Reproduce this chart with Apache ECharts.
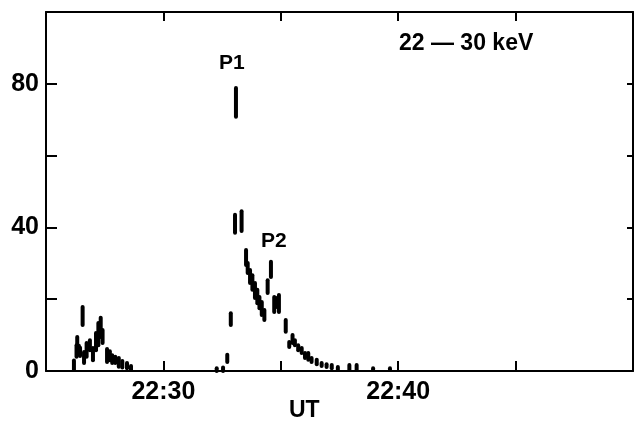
<!DOCTYPE html>
<html>
<head>
<meta charset="utf-8">
<script src="https://cdn.jsdelivr.net/npm/echarts@6/dist/echarts.min.js"></script>
<style>
  html, body { margin: 0; padding: 0; background: #fff; }
  #chart { width: 637px; height: 423px; }
</style>
</head>
<body>
<div id="chart"></div>
<script>
// Count-rate samples, 22-30 keV channel. Time in minutes after 22:00 UT,
// each sample drawn as a short vertical stroke from low to high count.
const times = [
  26.19, 26.30, 26.33, 26.40, 26.45, 26.56, 26.62, 26.73, 26.87, 27.00,
  27.13, 27.23, 27.33, 27.41, 27.60, 27.72, 27.82, 27.95, 28.10, 28.25,
  28.45, 28.62,
  32.27, 32.54, 32.72, 32.87, 33.05, 33.09, 33.33,
  33.52, 33.59, 33.69, 33.79, 33.90, 34.00, 34.09, 34.19, 34.30,
  34.44, 34.58, 34.72, 34.83, 34.92, 35.21,
  35.36, 35.50, 35.60, 35.74, 35.89, 36.03, 36.17, 36.31, 36.53, 36.74,
  36.95, 37.17, 37.43, 37.92, 38.23, 38.93, 39.65
];
const lows = [
  0.3, 4.0, 7.7, 4.5, 4.2, 12.8, 2.2, 4.0, 5.8, 3.0,
  5.8, 7.2, 9.5, 7.8, 2.5, 3.0, 2.2, 2.2, 1.2, 1.0,
  0.8, 0.3,
  0.0, 0.0, 2.5, 12.8, 38.5, 70.8, 39.0,
  29.5, 27.3, 24.5, 22.6, 20.3, 18.9, 17.5, 15.6, 14.2,
  21.7, 26.2, 16.4, 17.8, 16.4, 10.9,
  6.7, 7.8, 7.2, 5.8, 5.0, 3.6, 3.1, 2.5, 1.9, 1.4,
  1.1, 0.8, 0.5, 0.3, 0.3, 0.3, 0.3
];
const highs = [
  2.9, 7.2, 9.5, 7.0, 6.5, 17.8, 5.3, 7.8, 8.6, 6.4,
  10.6, 13.4, 14.8, 11.4, 6.1, 5.5, 4.4, 4.0, 3.6, 2.8,
  2.2, 1.4,
  0.8, 1.0, 4.5, 16.1, 43.5, 78.8, 44.5,
  33.7, 30.1, 28.1, 26.7, 24.5, 22.6, 20.6, 19.2, 17.0,
  25.3, 30.4, 20.6, 20.3, 21.2, 14.2,
  8.1, 10.0, 8.6, 7.2, 6.4, 5.0, 5.0, 3.6, 3.1, 2.2,
  1.9, 1.7, 1.1, 1.7, 1.7, 0.8, 0.8
];

// Axis settings
const xMin = 25, xMax = 50, xStep = 5;
const xLabelled = [30, 40];
const yMin = 0, yMax = 100, yStep = 20;
const yLabelled = [0, 40, 80];

const strokes = times.map((t, i) => [t, lows[i], highs[i]]);

const fontFamily = '"Liberation Sans", Arial, Helvetica, sans-serif';
const ink = '#000';

const chart = echarts.init(document.getElementById('chart'), null, { renderer: 'canvas' });

const axisLineStyle = { show: true, onZero: false, lineStyle: { color: ink, width: 2 } };

chart.setOption({
  animation: false,
  backgroundColor: '#fff',
  grid: { left: 46, right: 4, top: 12, bottom: 52, containLabel: false },
  xAxis: [
    {
      type: 'value', position: 'bottom', min: xMin, max: xMax, interval: xStep,
      axisLine: axisLineStyle,
      axisTick: { show: true, inside: true, length: 10, lineStyle: { color: ink, width: 2 } },
      splitLine: { show: false },
      axisLabel: {
        margin: 9, color: ink, fontFamily, fontWeight: 'bold', fontSize: 25,
        formatter: v => xLabelled.includes(v) ? '22:' + v : ''
      }
    },
    {
      type: 'value', position: 'top', min: xMin, max: xMax, interval: xStep,
      axisLine: axisLineStyle,
      axisTick: { show: true, inside: true, length: 9, lineStyle: { color: ink, width: 2 } },
      splitLine: { show: false },
      axisLabel: { show: false }
    }
  ],
  yAxis: [
    {
      type: 'value', position: 'left', min: yMin, max: yMax, interval: yStep,
      axisLine: axisLineStyle,
      axisTick: { show: true, inside: true, length: 11, lineStyle: { color: ink, width: 2 } },
      splitLine: { show: false },
      axisLabel: {
        margin: 7, color: ink, fontFamily, fontWeight: 'bold', fontSize: 25,
        formatter: v => yLabelled.includes(v) ? String(v) : ''
      }
    },
    {
      type: 'value', position: 'right', min: yMin, max: yMax, interval: yStep,
      axisLine: axisLineStyle,
      axisTick: { show: true, inside: true, length: 6, lineStyle: { color: ink, width: 2 } },
      splitLine: { show: false },
      axisLabel: { show: false }
    }
  ],
  series: [
    {
      type: 'custom',
      xAxisIndex: 0,
      yAxisIndex: 0,
      data: strokes,
      renderItem: (params, api) => {
        const a = api.coord([api.value(0), api.value(1)]);
        const b = api.coord([api.value(0), api.value(2)]);
        return {
          type: 'line',
          shape: { x1: a[0], y1: a[1], x2: b[0], y2: b[1] },
          style: { stroke: ink, lineWidth: 4, lineCap: 'round' }
        };
      }
    }
  ],
  graphic: [
    { type: 'text', left: 399, top: 32,
      style: { text: '22 \u2014 30 keV', fill: ink, font: 'bold 23px ' + fontFamily } },
    { type: 'text', left: 219, top: 53,
      style: { text: 'P1', fill: ink, font: 'bold 21px ' + fontFamily } },
    { type: 'text', left: 261, top: 231,
      style: { text: 'P2', fill: ink, font: 'bold 21px ' + fontFamily } },
    { type: 'text', left: 289, top: 399,
      style: { text: 'UT', fill: ink, font: 'bold 23px ' + fontFamily } }
  ]
});
</script>
</body>
</html>
